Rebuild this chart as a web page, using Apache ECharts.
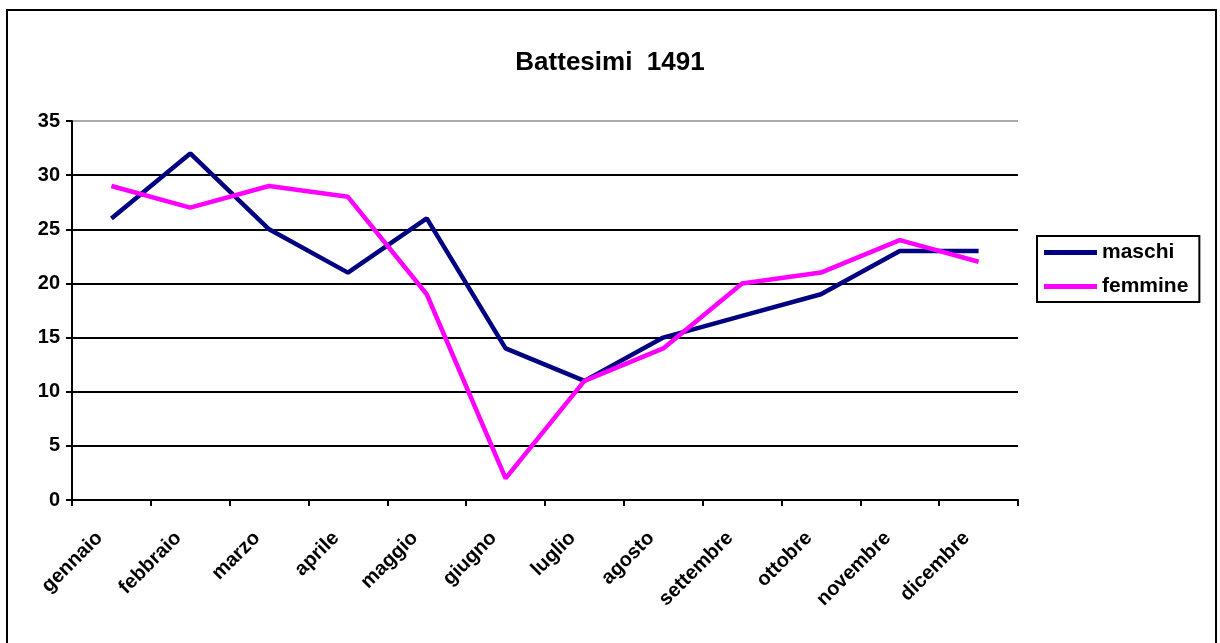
<!DOCTYPE html>
<html>
<head>
<meta charset="utf-8">
<script src="https://cdn.jsdelivr.net/npm/echarts@6/dist/echarts.min.js"></script>
<style>
  html, body { margin: 0; padding: 0; background: #fff; }
  #chart { width: 1220px; height: 643px; }
</style>
</head>
<body>
<div id="chart"></div>
<script>
// Monthly baptisms in 1491, split by sex
const mesi = ['gennaio', 'febbraio', 'marzo', 'aprile', 'maggio', 'giugno',
              'luglio', 'agosto', 'settembre', 'ottobre', 'novembre', 'dicembre'];
const maschi = [26, 32, 25, 21, 26, 14, 11, 15, 17, 19, 23, 23];
const femmine = [29, 27, 29, 28, 19, 2, 11, 14, 20, 21, 24, 22];

const FONT = '"Liberation Sans", Arial, sans-serif';

const chart = echarts.init(document.getElementById('chart'), null, { renderer: 'canvas' });
chart.setOption({
  backgroundColor: '#fff',
  animation: false,
  title: {
    text: 'Battesimi  1491',
    left: 'center',
    top: 45,
    textStyle: { fontFamily: FONT, fontWeight: 'bold', fontSize: 26, color: '#000' }
  },
  graphic: [{
    type: 'rect',
    shape: { x: 7, y: 10, width: 1209, height: 650 },
    style: { fill: 'none', stroke: '#000', lineWidth: 2 },
    z: -1
  }],
  legend: {
    orient: 'vertical',
    left: 1037, top: 236,
    padding: [6, 11, 5, 7],
    itemGap: 13,
    itemWidth: 53,
    itemHeight: 5,
    icon: 'rect',
    borderColor: '#000',
    borderWidth: 2,
    textStyle: { fontFamily: FONT, fontWeight: 'bold', fontSize: 21, color: '#000' },
    data: ['maschi', 'femmine']
  },
  grid: { left: 72, right: 202, top: 121, bottom: 143, containLabel: false },
  xAxis: {
    type: 'category',
    data: mesi,
    boundaryGap: true,
    axisLine: { lineStyle: { color: '#000', width: 2 } },
    axisTick: { show: true, length: 6, lineStyle: { color: '#000', width: 2 } },
    axisLabel: {
      rotate: 45, margin: 23, interval: 0,
      padding: [0, 17, 0, 0],
      fontFamily: FONT, fontWeight: 'bold', fontSize: 20, color: '#000'
    }
  },
  yAxis: {
    type: 'value',
    min: 0, max: 35, interval: 5,
    axisLine: { show: true, lineStyle: { color: '#000', width: 2 } },
    axisTick: { show: true, length: 6, lineStyle: { color: '#000', width: 2 } },
    axisLabel: { margin: 12, fontFamily: FONT, fontWeight: 'bold', fontSize: 20, color: '#000' },
    splitLine: {
      show: true,
      lineStyle: { color: ['#000', '#000', '#000', '#000', '#000', '#000', '#000', '#aaa'], width: 2 }
    }
  },
  series: [
    {
      name: 'maschi', type: 'line', data: maschi,
      symbol: 'none', color: '#000080',
      lineStyle: { color: '#000080', width: 4.5 }
    },
    {
      name: 'femmine', type: 'line', data: femmine,
      symbol: 'none', color: '#ff00ff',
      lineStyle: { color: '#ff00ff', width: 4.5 }
    }
  ]
});
</script>
</body>
</html>
